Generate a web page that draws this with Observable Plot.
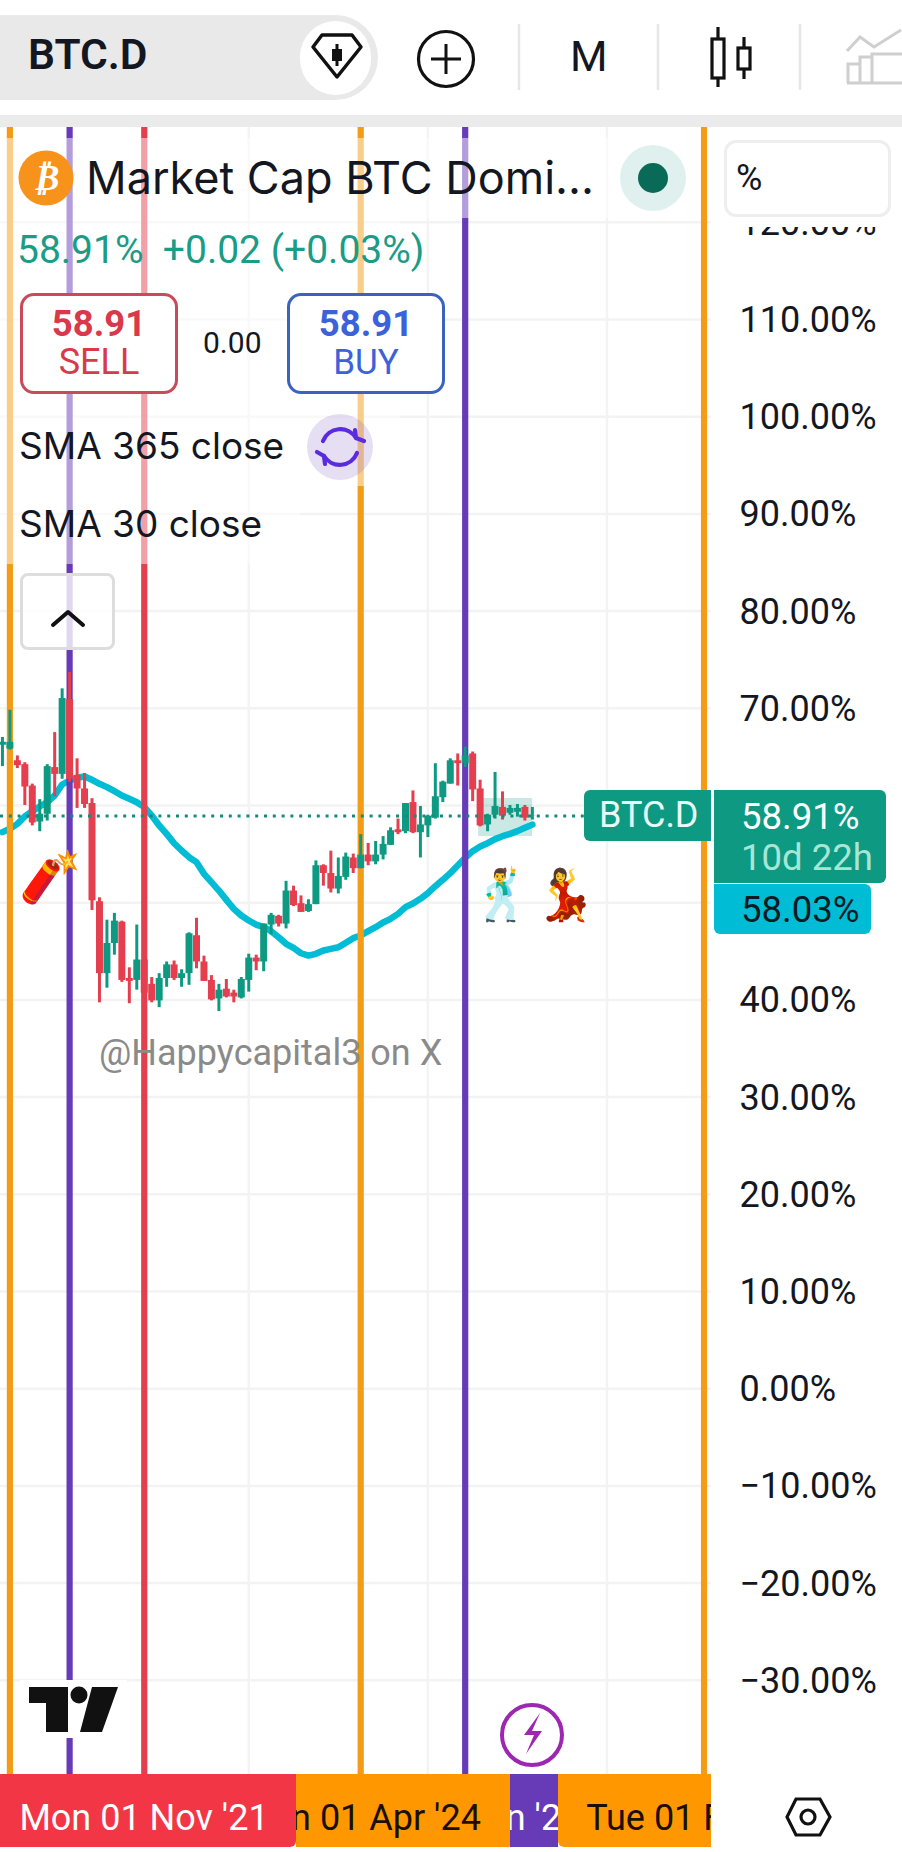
<!DOCTYPE html>
<html><head><meta charset="utf-8">
<script src="https://cdn.jsdelivr.net/npm/d3@7"></script>
<script src="https://cdn.jsdelivr.net/npm/@observablehq/plot@0.6"></script>
<style>
html,body{margin:0;padding:0;background:#fff}
#page{position:relative;width:902px;height:1852px;overflow:hidden;font-family:Roboto,sans-serif;color:#131722;background:#fff}
#chart{position:absolute;left:0;top:127px}
.a{position:absolute;white-space:nowrap;line-height:1}
.veil{position:absolute;background:rgba(255,255,255,.5)}
.box{position:absolute;box-sizing:border-box;background:#fff;border-radius:14px;border:3px solid}
.cc{position:absolute;left:0;width:100%;text-align:center;line-height:1}
.tag{position:absolute;top:1774px;height:73px;overflow:hidden}
.tag span{position:absolute;top:26px;font-size:36px;line-height:36px;white-space:nowrap;transform:translateX(-50%)}
svg.ico{position:absolute;left:0;top:0;pointer-events:none}
</style></head><body>
<div id="page"><div id="chart"></div></div>
<script>
// month index: 0 = Nov 2021, one candle per month
const months = d3.range(-19, 53);
const opens = [66.2,65.8,64.6,64.2,62.0,58.3,59.1,63.9,63.2,70.9,63.1,61.7,60.2,50.1,42.7,45.8,48.0,42.2,42.0,44.1,41.6,39.9,42.2,43.6,42.2,42.7,46.6,43.9,42.0,40.1,41.1,40.7,40.2,42.0,44.3,43.9,47.7,48.6,47.8,51.2,49.9,49.1,49.8,53.8,53.0,51.4,52.6,54.6,53.5,54.9,54.2,54.9,55.9,57.5,57.3,60.3,57.2,57.9,58.7,60.8,62.2,64.6,64.3,65.3,61.7,58.0,59.0,59.8,59.2,59.3,59.8,58.89];
const closes = [66.5,66.5,64.1,61.9,58.2,59.1,64.0,63.2,71.0,62.7,61.7,60.1,50.2,42.7,45.8,48.1,42.0,41.9,44.1,40.7,39.9,42.2,43.6,42.2,42.7,46.8,43.9,41.9,40.0,41.0,40.3,40.3,42.1,44.3,43.9,47.8,48.7,47.8,51.2,49.7,49.0,49.8,53.8,53.0,51.4,52.7,54.7,53.5,54.9,54.2,54.9,56.0,57.4,57.2,60.2,57.2,58.0,58.9,60.9,62.4,64.6,64.3,65.1,61.6,57.9,59.0,59.9,58.9,59.7,59.7,58.7,58.91];
const highs = [67.0,69.8,65.1,64.4,62.2,60.6,64.2,67.5,72.0,73.7,64.8,63.3,60.7,50.5,48.2,48.9,48.1,43.3,47.7,44.1,42.3,42.7,43.9,44.0,43.1,46.9,48.4,44.5,42.5,41.6,42.1,41.0,42.3,44.7,44.6,47.8,48.9,48.7,52.2,51.7,50.7,50.3,54.3,53.9,55.3,54.6,55.1,55.0,57.0,56.1,56.3,56.8,57.7,58.6,60.2,61.5,59.9,59.0,64.3,62.5,64.8,65.3,66.0,65.5,62.6,59.1,63.4,61.4,60.0,60.1,60.0,59.8];
const lows = [64.0,65.7,63.8,60.0,57.9,57.3,58.4,60.9,62.7,62.4,59.7,59.7,49.2,39.7,41.2,44.6,41.8,39.6,41.0,39.6,39.7,39.2,41.3,42.0,41.3,41.5,43.2,41.9,39.9,38.8,40.2,39.7,40.1,40.8,43.0,42.9,46.7,47.5,47.3,49.6,49.0,49.0,49.8,51.7,51.0,50.9,52.3,53.0,53.5,53.8,53.9,54.4,55.9,57.0,57.1,57.1,54.6,56.7,58.6,60.3,62.2,62.0,63.9,60.4,57.8,57.3,58.6,58.5,59.0,58.8,58.4,58.5];
const sma = [57.26,57.6,58.11,58.87,59.42,59.9,60.34,61.03,62.16,62.57,62.85,62.98,62.64,62.23,61.89,61.47,61.03,60.69,60.34,59.83,58.97,57.94,57.08,56.12,55.37,54.68,54.17,52.97,52.11,51.25,50.29,49.37,48.68,48.17,47.75,47.48,47.07,46.45,45.77,45.35,44.8,44.56,44.74,45.08,45.25,45.42,45.87,46.35,46.62,47.07,47.48,47.96,48.34,48.85,49.54,49.92,50.4,50.98,51.7,52.35,53.04,53.83,54.61,55.3,55.78,56.12,56.54,56.84,57.08,57.36,57.7,58.03];
const lastPrice = 58.91;
const yTicks = [120,110,100,90,80,70,40,30,20,10,0,-10,-20,-30];
const yGrid = [120,110,100,90,80,70,60,50,40,30,20,10,0,-10,-20,-30];
const xGrid = [14,38,62];               // Jan 2023, Jan 2025, Jan 2027
const eventMonths = [-18,-10,0,29,43,75];
const eventColors = ["#f39c17","#673ab7","#e2404f","#f39c17","#673ab7","#f39c17"];
const emojis = ["🧨","🕺","💃"];
const emojiMonths = [-12.5,48,56.4];
const emojiValues = [52.5,50.7,50.7];
const rangeBox = {x1:44.8,x2:52.03,y1:56.81,y2:60.72};

const GREEN="#0e9a82", RED="#e53e4e";
const candles = months.map((t,i)=>({t,o:opens[i],c:closes[i],h:highs[i],l:lows[i],s:sma[i],col:closes[i]>=opens[i]?GREEN:RED}));
const rules = eventMonths.map((t,i)=>({t,col:eventColors[i]}));
const emo = emojis.map((e,i)=>({e,t:emojiMonths[i],v:emojiValues[i]}));

const plot = Plot.plot({
  width:902,height:1647,marginLeft:0,marginRight:191,marginTop:0,marginBottom:0,
  style:{background:"transparent",fontFamily:"Roboto,sans-serif",overflow:"visible"},
  x:{domain:[-19.26,76.0],axis:null},
  y:{domain:[-39.69,129.75],axis:null},
  color:{type:"identity"},
  marks:[
    Plot.ruleY(yGrid,{stroke:"#f3f3f3",strokeWidth:2.5}),
    Plot.ruleX(xGrid,{stroke:"#f3f3f3",strokeWidth:2.5}),
    Plot.axisY(yTicks,{anchor:"right",tickSize:0,tickPadding:28,fontSize:36,dy:1,fill:"#131722",label:null,
      tickFormat:v=>(v<0?"\u2212":"")+Math.abs(v).toFixed(2)+"%"}),
    Plot.rect([rangeBox],{x1:"x1",x2:"x2",y1:"y1",y2:"y2",fill:GREEN,fillOpacity:.22}),
    Plot.line(candles,{x:"t",y:"s",stroke:"#00bcd4",strokeWidth:6.5,curve:"linear"}),
    Plot.ruleX(rules,{x:"t",stroke:"col",strokeWidth:6.2}),
    Plot.ruleX(candles,{x:"t",y1:"l",y2:"h",stroke:"col",strokeWidth:3}),
    Plot.ruleX(candles,{x:"t",y1:"o",y2:"c",stroke:"col",strokeWidth:7}),
    Plot.ruleY([lastPrice],{stroke:"#1a8a78",strokeWidth:3,strokeDasharray:"3 5.8"}),
    Plot.text(emo,{x:"t",y:"v",text:"e",fontSize:50,fontFamily:"'Noto Color Emoji',sans-serif"})
  ]
});
document.getElementById("chart").append(plot);

// --- interface chrome laid over the chart ---
const page=document.getElementById("page");
const add=html=>page.insertAdjacentHTML("beforeend",html);
add(`
<div class="veil" style="left:0;top:138px;width:695px;height:80px"></div>
<div class="veil" style="left:0;top:218px;width:400px;height:268px"></div>
<div class="veil" style="left:0;top:486px;width:300px;height:78px"></div>
<div style="position:absolute;left:712px;top:127px;width:190px;height:100px;background:#fff"></div>
<div style="position:absolute;left:0;top:0;width:902px;height:115px;background:#fff"></div>
<div style="position:absolute;left:0;top:115px;width:902px;height:12px;background:#ebebeb"></div>
<div style="position:absolute;left:-40px;top:15px;width:418px;height:85px;border-radius:43px;background:#e9e9e9"></div>
<div style="position:absolute;left:300px;top:21px;width:71px;height:74px;border-radius:37px;background:#fff"></div>
<div class="a" style="left:28px;top:34px;font-size:42.5px;font-weight:600;font-family:Roboto">BTC.D</div>
<div class="a" style="left:570px;top:35px;font-size:43px;font-family:Roboto">M</div>
<div class="a" style="left:86px;top:155px;font-size:45px;font-family:Inter">Market Cap BTC Domi...</div>
<div class="a" style="left:736px;top:160px;font-size:36px;font-family:Roboto">%</div>
<div class="a" style="left:17px;top:230.5px;font-size:39px;color:#1a9c86;font-family:Roboto">58.91%&nbsp; +0.02 (+0.03%)</div>
<div class="box" style="left:20px;top:293px;width:158px;height:101px;border-color:#c94a5b"><div class="cc" style="top:10px;font-size:36.5px;font-weight:700;color:#d9394a">58.91</div><div class="cc" style="top:48px;font-size:36px;color:#d9394a">SELL</div></div>
<div class="a" style="left:203px;top:328px;font-size:30px;font-family:Roboto">0.00</div>
<div class="box" style="left:287px;top:293px;width:158px;height:101px;border-color:#3a63c0"><div class="cc" style="top:10px;font-size:36.5px;font-weight:700;color:#3b62d8">58.91</div><div class="cc" style="top:48.5px;font-size:35px;color:#3b62d8">BUY</div></div>
<div class="a" style="left:19px;top:426.5px;font-size:37px;font-family:Inter">SMA 365 close</div>
<div class="a" style="left:19px;top:504.5px;font-size:37px;font-family:Inter">SMA 30 close</div>
<div class="box" style="left:20px;top:573px;width:95px;height:77px;border:3px solid #ddd;border-radius:8px;background:rgba(255,255,255,.8)"></div>
<div class="box" style="left:724px;top:140px;width:167px;height:77px;border:3px solid #eee;border-radius:12px;background:transparent"></div>
<div style="position:absolute;left:584px;top:790px;width:127px;height:51px;background:#0e9a82;border-radius:6px 0 0 6px"></div>
<div class="a" style="left:599px;top:797px;font-size:36px;color:#e8fbf6;font-family:Roboto">BTC.D</div>
<div style="position:absolute;left:714px;top:790px;width:172px;height:93px;background:#0e9a82;border-radius:0 6px 6px 0"></div>
<div class="a" style="left:741px;top:798.5px;font-size:36.5px;color:#fff">58.91%</div>
<div class="a" style="left:741px;top:840px;font-size:36.5px;color:#a6e6d4">10d 22h</div>
<div style="position:absolute;left:714px;top:884px;width:157px;height:50px;background:#00bcd4;border-radius:0 6px 6px 6px"></div>
<div class="a" style="left:741px;top:892px;font-size:36.5px;color:#0a1a24">58.03%</div>
<div class="a" style="left:99px;top:1035px;font-size:36px;color:#8a8a8a;font-family:Roboto">@Happycapital3 on X</div>
<svg class="ico" width="902" height="1852" viewBox="0 0 902 1852" fill="none">
 <g stroke="#e6e6e6" stroke-width="2.5"><path d="M519 24V90M658 24V90M800 24V90"/></g>
 <path d="M313 47l9-12h30l9 12-24 30z" stroke="#111" stroke-width="3.5" stroke-linejoin="round"/>
 <rect x="332" y="49" width="10" height="12" fill="#111"/><path d="M337 44V66" stroke="#111" stroke-width="3"/>
 <circle cx="446" cy="59" r="27.5" stroke="#111" stroke-width="3.2"/><path d="M446 44V74M431 59H461" stroke="#111" stroke-width="3"/>
 <g stroke="#111" stroke-width="3.2"><rect x="712" y="39" width="12" height="39"/><path d="M718 27V39M718 78V87"/><rect x="738" y="48" width="12" height="21"/><path d="M744 37V48M744 69V79"/></g>
 <g stroke="#cfcfcf" stroke-width="3"><path d="M847 51l13-14 14 10 27-17"/><path d="M848 83V64H860V83M860 83V57H872V83M872 83V54H902M847 83H902"/></g>
 <circle cx="46" cy="178" r="27.5" fill="#f7931a"/>
 <circle cx="653" cy="178" r="33" fill="#dff0ee"/><circle cx="653" cy="178" r="15" fill="#0a6a58"/>
 <circle cx="340" cy="447" r="33" fill="#6a3fb5" fill-opacity=".17"/>
 <g stroke="#5b2be0" stroke-width="4.2" stroke-linecap="round" stroke-linejoin="round"><path d="M323 441a18.5 18.5 0 0 1 33-3M357 453a18.5 18.5 0 0 1-33 3"/><path d="M364 441l-8 -3 -1-8M317 452l7 4 1 8"/></g>
 <path d="M53 625l15-13 15 13" stroke="#111" stroke-width="4" stroke-linecap="round" stroke-linejoin="round"/>
 <rect x="20" y="1680" width="107" height="58" fill="#fff"/>
 <path d="M29 1687H68V1732H46V1703H29z" fill="#111"/><circle cx="79" cy="1695" r="8.5" fill="#111"/><path d="M92 1687H118L102 1732H80z" fill="#111"/>
 <circle cx="532" cy="1735" r="30" fill="#fff" stroke="#9c27b0" stroke-width="4"/><path d="M540 1713l-16 22h10l-8 19 16-23h-10z" fill="#9c27b0"/>
 <path d="M796 1799H820L830 1817 820 1835H796L787 1817z" stroke="#111" stroke-width="3.2"/><circle cx="808" cy="1817" r="7" stroke="#111" stroke-width="3.2"/>
</svg>
<div class="a" style="left:33px;top:160px;font-size:36px;font-weight:700;font-style:italic;color:#fff;font-family:'DejaVu Sans'">₿</div>
<div class="tag" style="left:296px;width:218px;background:#ff9800;border-radius:0 0 6px 0"><span style="left:64px;color:#1a0f00">Mon 01 Apr '24</span></div>
<div class="tag" style="left:558px;width:153px;background:#ff9800;border-radius:0 0 0 6px"><span style="left:144px;color:#1a0f00">Tue 01 Feb '28</span></div>
<div class="tag" style="left:510px;width:48px;background:#673ab7"><span style="left:-46px;color:#fff">Sun 01 Jun '25</span></div>
<div class="tag" style="left:0;width:296px;background:#f23645;border-radius:0 0 6px 0"><span style="left:144px;color:#fff">Mon 01 Nov '21</span></div>
`);
</script>
</body></html>
